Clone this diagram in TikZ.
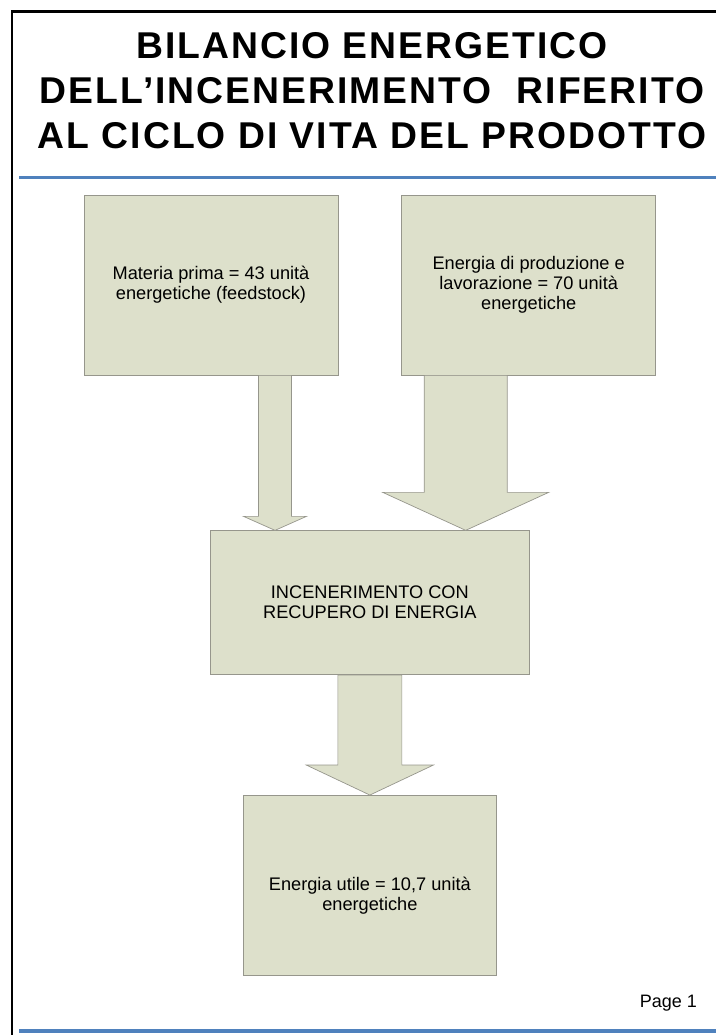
\documentclass[tikz,border=0pt]{standalone}
\usepackage{fontspec}
\setmainfont{Liberation Sans}
\newfontfamily\titlefont{Liberation Sans}[LetterSpace=5.4]
\usetikzlibrary{positioning,calc}

\definecolor{boxfill}{RGB}{221,224,203}
\definecolor{boxline}{RGB}{150,150,140}
\definecolor{rulecol}{RGB}{79,129,189}

% freccia a blocco: inizio, fine, mezza larghezza asta, mezza larghezza punta, lunghezza punta
\newcommand{\blockarrow}[5]{%
  \filldraw[arrowbox] let \p1=(#1), \p2=(#2) in
    (\x1-#3pt,\y1) -- (\x1+#3pt,\y1) -- (\x1+#3pt,\y2+#5pt) -- (\x1+#4pt,\y2+#5pt)
    -- (\x1,\y2) -- (\x1-#4pt,\y2+#5pt) -- (\x1-#3pt,\y2+#5pt) -- cycle;}

\begin{document}
\begin{tikzpicture}[x=1pt, y=-1pt,
    box/.style={draw=boxline, fill=boxfill, line width=0.7pt, inner sep=0pt, align=center, font=\fontsize{18.2}{20}\selectfont},
    arrowbox/.style={draw=boxline, fill=boxfill, line width=0.7pt}]
  \useasboundingbox (0,0) rectangle (716,1035);

  % cornice e righe blu
  \draw[line width=2.7pt] (12,1035) -- (12,11.5) -- (716,11.5);
  \draw[rulecol, line width=3.2pt] (19,177.5) -- (716,177.5);
  \draw[rulecol, line width=3.2pt] (19,1031) -- (716,1031);

  % titolo
  \node[anchor=north, inner sep=0pt, align=center, font=\titlefont\bfseries\fontsize{37.3}{45}\selectfont] (title) at (372,32)
    {BILANCIO ENERGETICO\\DELL’INCENERIMENTO\ \ RIFERITO\\AL CICLO DI VITA DEL PRODOTTO};

  % blocchi
  \node[box, minimum width=254pt, minimum height=180pt] (mat) at (211,285) {Materia prima = 43 unità\\energetiche (feedstock)};
  \node[box, minimum width=254pt, minimum height=180pt, right=63pt of mat] (prod) {Energia di produzione e\\lavorazione = 70 unità\\energetiche};
  \coordinate (mid) at ($(mat.south)!0.5!(prod.south)$);
  \node[box, minimum width=319pt, minimum height=144pt, below=155pt of mid] (inc) {INCENERIMENTO CON\\RECUPERO DI ENERGIA};
  \node[box, minimum width=253pt, minimum height=180pt, below=120pt of inc] (util) {\strut\\Energia utile = 10,7 unità\\energetiche};

  % frecce
  \coordinate (fa) at ([xshift=64pt]mat.south);
  \coordinate (fb) at ([xshift=-63pt]prod.south);
  \blockarrow{fa}{fa |- inc.north}{16.5}{31.5}{14}
  \blockarrow{fb}{fb |- inc.north}{41.5}{83}{38}
  \blockarrow{inc.south}{util.north}{32}{63.5}{30}

  % numero pagina
  \node[anchor=base east, inner sep=0pt, font=\fontsize{18}{20}\selectfont] (page) at (697,1007) {Page 1};
\end{tikzpicture}
\end{document}
